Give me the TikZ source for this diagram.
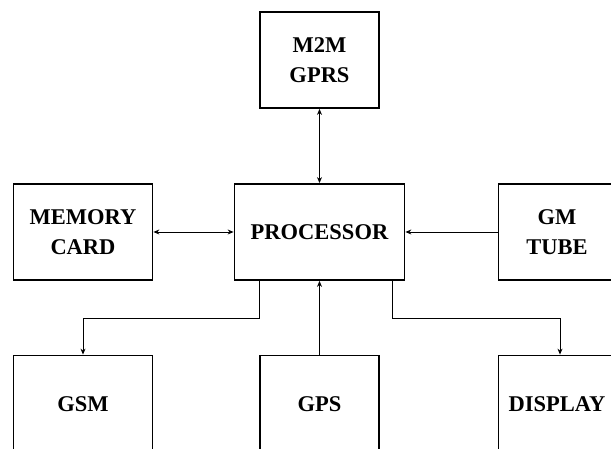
\documentclass[tikz,border=0pt]{standalone}
\usepackage{fontspec}
\setmainfont{Liberation Serif}
\usetikzlibrary{positioning, arrows.meta}
\tikzset{
  >={Stealth[length=6pt,width=5pt]},
  node distance=172pt,
  block/.style={draw, line width=1.8pt, minimum height=96pt, align=center,
    inner sep=0pt, font=\fontsize{22.5}{30}\selectfont\bfseries},
  link/.style={line width=0.9pt},
}

\begin{document}
\begin{tikzpicture}
      \useasboundingbox (0,0) rectangle (611pt,449pt);

      \node[block,minimum width=170pt] (proc) at (319.5pt,217pt) {PROCESSOR};
      \node[block,minimum width=119pt,above of=proc] (m2m) {M2M\\GPRS};
      \node[block,minimum width=139pt,left of=proc,node distance=236.5pt] (mem) {MEMORY\\CARD};
      \node[block,minimum width=117pt,right of=proc,node distance=237.5pt] (gm) {GM\\TUBE};
      \node[block,minimum width=139pt,minimum height=97pt,below of=mem] (gsm) {GSM};
      \node[block,minimum width=119pt,minimum height=97pt,below of=proc] (gps) {GPS};
      \node[block,minimum width=117pt,minimum height=97pt,below of=gm] (disp) {DISPLAY};

      \draw[link] (m2m) edge[<->] (proc)
            (mem) edge[<->] (proc)
            (gm) edge[->] (proc)
            (gps) edge[->] (proc);
      \draw[link,->] ([xshift=26pt]proc.south west) -- ++(0,-38pt) -| (gsm);
      \draw[link,->] ([xshift=-13pt]proc.south east) -- ++(0,-38pt) -| ([xshift=3pt]disp.north);
    \end{tikzpicture}
\end{document}
